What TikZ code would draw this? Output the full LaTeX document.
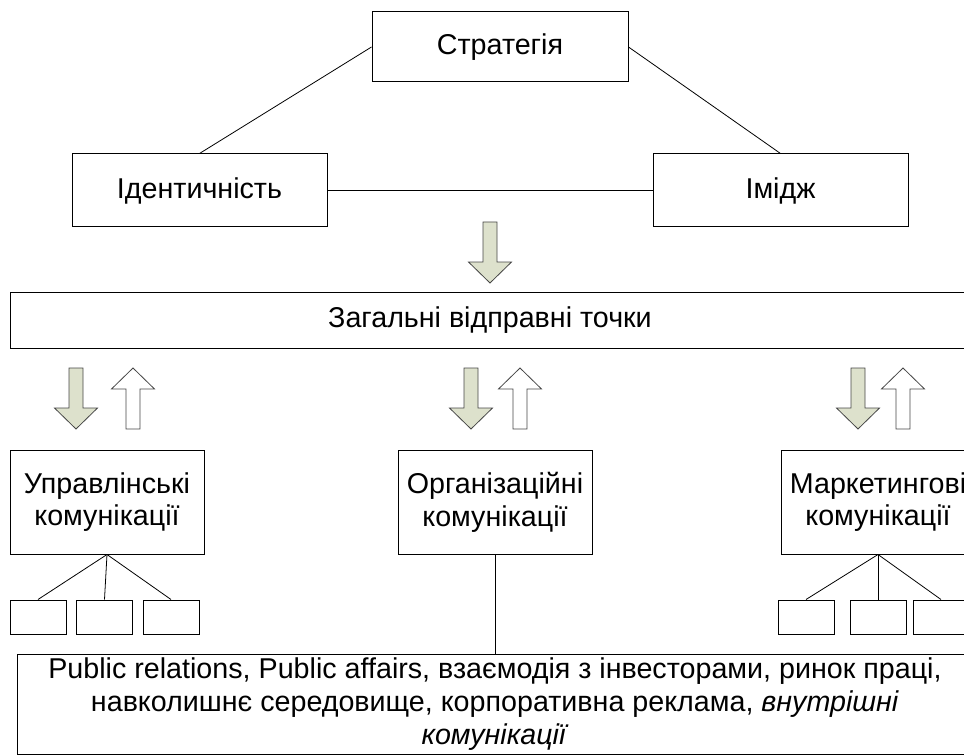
\documentclass[tikz,border=0pt]{standalone}
\usepackage{fontspec}
\setmainfont{Liberation Sans}
\definecolor{arrowgreen}{RGB}{221,225,204}
\definecolor{arrowedge}{RGB}{70,70,70}
\begin{document}
\begin{tikzpicture}[x=0.75pt, y=-0.75pt,
  font=\fontsize{21.5}{24.5}\selectfont,
  box/.style={draw=black, line width=0.75pt, fill=white, rectangle, inner sep=0pt, align=center},
  bigbox/.style={box, minimum width=191.25pt, minimum height=54.75pt},
  commbox/.style={box, minimum width=145.5pt, minimum height=78pt},
  subbox/.style={box, minimum width=42pt, minimum height=25.5pt},
  link/.style={draw=black, line width=0.6pt},
  blockarrow/.style={draw=arrowedge, line width=0.6pt, line join=miter},
  pics/downarrow/.style={code={
    \path[blockarrow, fill=arrowgreen] (-7,0) -- (-7,40) -- (-21.5,40) -- (0,61)
      -- (21.5,40) -- (7,40) -- (7,0) -- cycle;}},
  pics/uparrow/.style={code={
    \path[blockarrow, fill=white] (0,0) -- (21.5,21) -- (7,21) -- (7,61)
      -- (-7,61) -- (-7,21) -- (-21.5,21) -- cycle;}}]

\useasboundingbox (0,0) rectangle (964,756);
\clip (0,0) rectangle (964,756);

% strategy triangle
\node[box, minimum width=192pt, minimum height=52.5pt] (strat) at (500,47) {Стратегія};
\node[bigbox] (ident) at (199.5,190.5) {Ідентичність};
\node[bigbox] (image) at (780.5,190.5) {Імідж};

\draw[link] (strat.west) -- (ident.north);
\draw[link] (strat.east) -- (image.north);
\draw[link] (ident.east) -- (image.west);

% common starting points
\pic at (490,222) {downarrow};
\node[box, minimum width=720pt, minimum height=42pt] (general) at (490,320)
  {Загальні відправні точки};

% two-way flows to the communication types
\pic at (76,368) {downarrow};
\pic at (133,368) {uparrow};
\pic at (471,368) {downarrow};
\pic at (520,368) {uparrow};
\pic at (858,368) {downarrow};
\pic at (903,368) {uparrow};

% communication types
\node[commbox] (mgmt) at (107,502) {Управлінські\\комунікації};
\node[commbox] (org) at (495,502) {Організаційні\\комунікації};
\node[commbox] (mkt) at (878,502) {Маркетингові\\комунікації};

% sub-items
\node[subbox] (ms1) at (38,617) {};
\node[subbox] (ms2) at (104.5,617) {};
\node[subbox] (ms3) at (171,617) {};
\node[subbox] (ks1) at (806,617) {};
\node[subbox] (ks2) at (878,617) {};
\node[subbox] (ks3) at (941,617) {};

\foreach \s in {ms1,ms2,ms3} \draw[link] (mgmt.south) -- (\s.north);
\foreach \s in {ks1,ks2,ks3} \draw[link] (mkt.south) -- (\s.north);

% organisational communication areas
\node[box, minimum width=717pt, minimum height=75pt] (areas) at (495,704)
  {Public relations, Public affairs, взаємодія з інвесторами, ринок праці,\\
   навколишнє середовище, корпоративна реклама, \textit{внутрішні}\\
   \textit{комунікації}};
\draw[link] (org.south) -- (org.south |- areas.north);

\end{tikzpicture}
\end{document}
